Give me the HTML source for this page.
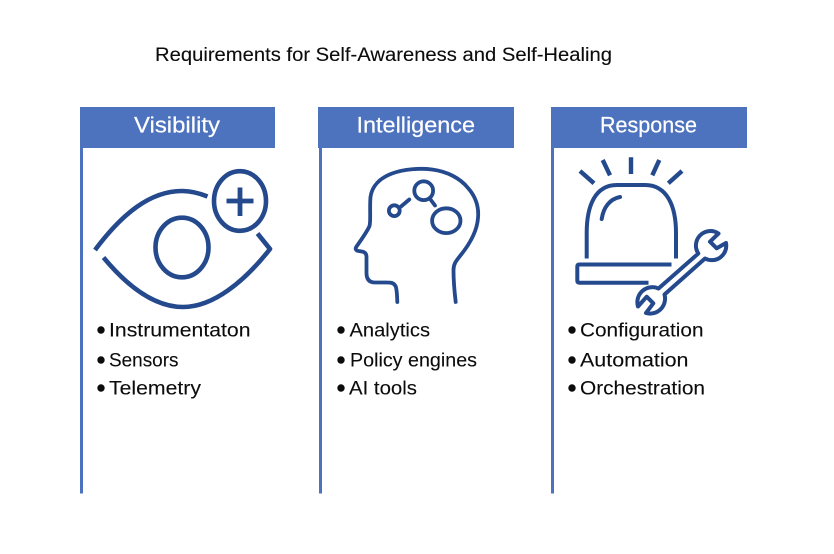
<!DOCTYPE html>
<html lang="en">
<head>
<meta charset="utf-8">
<title>Requirements for Self-Awareness and Self-Healing</title>
<style>
html,body{margin:0;padding:0;background:#fff;width:834px;height:554px;overflow:hidden}
svg{display:block}
text{font-family:"Liberation Sans",sans-serif}
.h{fill:#fff;font-size:22.5px;stroke:#fff;stroke-width:.2}
.t{fill:#0c0c0c;font-size:19.8px;stroke:#0c0c0c;stroke-width:.1}
.i{fill:none;stroke:#24498c;stroke-width:4.6;stroke-linejoin:round}
.n{fill:none;stroke:#24498c;stroke-width:3.8;stroke-linecap:round;stroke-linejoin:round}
.s{fill:none;stroke:#24498c;stroke-width:4;stroke-linejoin:round}
</style>
</head>
<body>
<svg width="834" height="554" viewBox="0 0 834 554" xmlns="http://www.w3.org/2000/svg">
<rect width="834" height="554" fill="#fff"/>
<text x="155" y="61" font-size="19" fill="#0c0c0c" stroke="#0c0c0c" stroke-width=".12" textLength="457" lengthAdjust="spacingAndGlyphs">Requirements for Self-Awareness and Self-Healing</text>

<!-- Columns -->
<g fill="#4e73be">
<rect x="80" y="107" width="195" height="41"/>
<rect x="80" y="148" width="3" height="345.5"/>
<rect x="318" y="107" width="196" height="41"/>
<rect x="319" y="148" width="3" height="345.5"/>
<rect x="551" y="107" width="196" height="41"/>
<rect x="551" y="148" width="3" height="345.5"/>
</g>
<text class="h" x="134" y="132.5" textLength="86" lengthAdjust="spacingAndGlyphs">Visibility</text>
<text class="h" x="356.5" y="132.5" textLength="118.5" lengthAdjust="spacingAndGlyphs">Intelligence</text>
<text class="h" x="600" y="132.5" textLength="97" lengthAdjust="spacingAndGlyphs">Response</text>

<!-- Eye icon -->
<path class="i" d="M95 250 C122 214 150 191 182 191 C191 191 199 193 207.5 196.5"/>
<path class="i" d="M103.5 257.5 C128 287 155 307 183 307 C213 307 244 282 270 249 L257.5 233.5"/>
<ellipse class="i" cx="182" cy="247.5" rx="26.5" ry="29.8"/>
<ellipse class="i" cx="240" cy="201" rx="26" ry="29.8"/>
<path d="M226.5 201H253.5M240 187.5V216" fill="none" stroke="#24498c" stroke-width="4.8"/>

<!-- Head icon -->
<path class="n" d="M397.3 302 C397 295 397 289 395.5 286 C393 282 390 282.5 384 282.5 L375 282.5 C369 282.5 366.5 279 366.5 273 L366.5 257 C366.5 252 363 251.5 358.5 251 C355.5 250.5 355 248.5 356.5 246.5 C361 240 367 232 369.5 226 C371 221 369.5 208 370.5 197 C372 186 380 178 392 173.5 C404 169 420 168 432 169.5 C447 171.5 460 178 468 188 C476 197 479 207 478 218 C477 232 469 245 460 256 C456 261 453.5 264 453.5 270 C453.5 282 454.5 292 455.7 302"/>
<circle class="n" cx="394.3" cy="210.7" r="5.4"/>
<path class="n" d="M401 206.5L409.3 199.5"/>
<circle class="n" cx="423.7" cy="190.7" r="9.4"/>
<path class="n" d="M430.5 199.5L435 205.5"/>
<ellipse class="n" cx="446.3" cy="220.7" rx="14.2" ry="12.4"/>

<!-- Siren icon -->
<g class="s">
<path stroke-width="4.4" d="M631 157.3V174M602.7 160L610 175.3M580 171L594 183.3M659.3 160L652.3 175.3M682 171L668.3 183.3"/>
<path d="M586.7 258.5V233 C586.7 206 595 185 617 185 H645 C667 185 676 206 676 233 V258.5"/>
<path d="M601.7 219 C603.5 207 610 199 620 197" stroke-linecap="round"/>
<path d="M671.5 264.5 H579.5 Q577.3 264.5 577.3 266.7 V280.5 Q577.3 282.7 579.5 282.7 H648.5"/>
<path d="M718.5 233.5 A14.5 14.5 0 0 0 698.3 253.5 L658.5 288.5 A15 15 0 0 0 638 306.5 L646.7 296.7 L653.3 303.3 L646 313 A15 15 0 0 0 664.5 294.5 L705 258.5 A14.5 14.5 0 0 0 726 243 L716.7 248.3 L710 241.7 Z"/>
</g>

<!-- Bullets -->
<g fill="#0c0c0c">
<circle cx="101" cy="330" r="3.7"/><circle cx="101" cy="360" r="3.7"/><circle cx="101" cy="388" r="3.7"/>
<circle cx="341" cy="330" r="3.7"/><circle cx="341" cy="360" r="3.7"/><circle cx="341" cy="388" r="3.7"/>
<circle cx="572" cy="330" r="3.7"/><circle cx="572" cy="360" r="3.7"/><circle cx="572" cy="388" r="3.7"/>
</g>
<g lengthAdjust="spacingAndGlyphs">
<text class="t" x="109" y="336.5" textLength="141.5" lengthAdjust="spacingAndGlyphs">Instrumentaton</text>
<text class="t" x="109" y="366.5" textLength="69.5" lengthAdjust="spacingAndGlyphs">Sensors</text>
<text class="t" x="109" y="394.5" textLength="92" lengthAdjust="spacingAndGlyphs">Telemetry</text>
<text class="t" x="349.5" y="336.5" textLength="80.5" lengthAdjust="spacingAndGlyphs">Analytics</text>
<text class="t" x="350" y="366.5" textLength="127" lengthAdjust="spacingAndGlyphs">Policy engines</text>
<text class="t" x="349" y="394.5" textLength="68" lengthAdjust="spacingAndGlyphs">AI tools</text>
<text class="t" x="580" y="336.5" textLength="123.5" lengthAdjust="spacingAndGlyphs">Configuration</text>
<text class="t" x="580" y="366.5" textLength="108.5" lengthAdjust="spacingAndGlyphs">Automation</text>
<text class="t" x="580" y="394.5" textLength="125" lengthAdjust="spacingAndGlyphs">Orchestration</text>
</g>
</svg>
</body>
</html>
